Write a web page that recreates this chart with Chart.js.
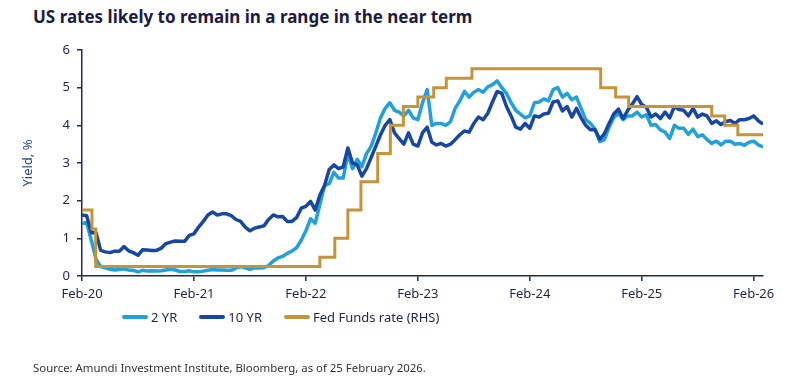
<!DOCTYPE html>
<html>
<head>
<meta charset="utf-8">
<script src="https://cdn.jsdelivr.net/npm/chart.js@4.4.1/dist/chart.umd.min.js"></script>
<style>
  body { margin: 0; background: #fff; font-family: 'Noto Sans', sans-serif; }
  .wrap { position: relative; width: 800px; height: 385px; overflow: hidden; }
  .title { position: absolute; left: 33px; top: 5px; font-size: 17px; font-weight: 700; color: #1d1b45; white-space: nowrap; }
  #chart { position: absolute; left: 0; top: 0; }
  .legend { position: absolute; left: 122px; top: 308px; display: flex; align-items: center; font-size: 13px; color: #1d2450; }
  .legend .item { display: flex; align-items: center; margin-right: 22px; }
  .legend .sw { width: 26px; height: 4px; border-radius: 2px; margin-right: 3px; }
  .source { position: absolute; left: 33px; top: 360px; font-size: 11.4px; color: #333; white-space: nowrap; }
</style>
</head>
<body>
<div class="wrap">
  <div class="title">US rates likely to remain in a range in the near term</div>
  <canvas id="chart" width="800" height="385"></canvas>
  <div class="legend" id="legend"></div>
  <div class="source">Source: Amundi Investment Institute, Bloomberg, as of 25 February 2026.</div>
</div>
<script>
// x axis: months since Feb 2020
const tickMonths = [0, 12, 24, 36, 48, 60, 72];
const tickLabels = ["Feb-20", "Feb-21", "Feb-22", "Feb-23", "Feb-24", "Feb-25", "Feb-26"];
const yTicks = [0, 1, 2, 3, 4, 5, 6];

const seriesNames = ["2 YR", "10 YR", "Fed Funds rate (RHS)"];
const seriesColors = ["#22a0dc", "#1747a0", "#c5943a"];

// semi-monthly readings (1st and 15th of each month), Feb-20 .. end Feb-26
const yr2 = [
  // 2020 (from Feb)
  1.40, 1.42, 0.95, 0.45, 0.25, 0.22, 0.18, 0.16, 0.17, 0.19, 0.16, 0.15,
  0.11, 0.15, 0.13, 0.14, 0.13, 0.14, 0.16, 0.18, 0.16, 0.12,
  // 2021
  0.12, 0.14, 0.11, 0.11, 0.13, 0.15, 0.17, 0.16, 0.16, 0.15, 0.15, 0.21,
  0.25, 0.22, 0.18, 0.22, 0.21, 0.22, 0.28, 0.40, 0.48, 0.52, 0.60, 0.66,
  // 2022
  0.75, 0.95, 1.20, 1.52, 1.40, 1.90, 2.40, 2.45, 2.75, 2.60, 2.60, 3.25,
  2.85, 3.10, 2.90, 3.25, 3.45, 3.80, 4.20, 4.45, 4.60, 4.40, 4.35, 4.25,
  // 2023
  4.40, 4.20, 4.15, 4.60, 4.95, 4.00, 4.05, 4.05, 4.00, 4.10, 4.45, 4.65,
  4.90, 4.75, 4.88, 4.95, 4.88, 5.02, 5.08, 5.18, 5.00, 4.85, 4.60, 4.40,
  // 2024
  4.30, 4.20, 4.25, 4.60, 4.62, 4.70, 4.65, 4.95, 5.00, 4.75, 4.85, 4.68,
  4.75, 4.45, 4.15, 4.05, 3.90, 3.57, 3.62, 3.95, 4.20, 4.32, 4.15, 4.25,
  // 2025
  4.25, 4.35, 4.22, 4.28, 4.00, 4.02, 3.88, 3.82, 3.65, 4.00, 3.92, 3.92,
  3.76, 3.90, 3.70, 3.75, 3.62, 3.52, 3.58, 3.48, 3.58, 3.58, 3.50, 3.52,
  // 2026
  3.47, 3.55, 3.58, 3.48, 3.43
];

const yr10 = [
  // 2020 (from Feb)
  1.62, 1.60, 1.15, 1.15, 0.68, 0.64, 0.62, 0.66, 0.66, 0.78, 0.67, 0.62,
  0.55, 0.70, 0.69, 0.68, 0.68, 0.74, 0.86, 0.90, 0.93, 0.92,
  // 2021
  0.92, 1.08, 1.12, 1.30, 1.45, 1.62, 1.70, 1.62, 1.65, 1.65, 1.60, 1.50,
  1.45, 1.30, 1.20, 1.27, 1.30, 1.33, 1.50, 1.62, 1.57, 1.58, 1.45, 1.45,
  // 2022
  1.55, 1.80, 1.85, 1.98, 1.75, 2.15, 2.40, 2.83, 2.95, 2.85, 2.90, 3.40,
  3.00, 2.95, 2.65, 2.85, 3.15, 3.45, 3.75, 4.00, 4.15, 3.80, 3.65, 3.50,
  // 2023
  3.80, 3.50, 3.45, 3.80, 3.95, 3.55, 3.48, 3.52, 3.45, 3.50, 3.62, 3.75,
  3.85, 3.82, 4.05, 4.22, 4.15, 4.32, 4.62, 4.90, 4.85, 4.50, 4.25, 3.95,
  // 2024
  3.90, 4.05, 3.92, 4.25, 4.22, 4.30, 4.32, 4.62, 4.65, 4.38, 4.50, 4.22,
  4.45, 4.20, 4.00, 3.88, 3.88, 3.63, 3.78, 4.05, 4.30, 4.43, 4.18, 4.40,
  // 2025
  4.57, 4.76, 4.55, 4.48, 4.22, 4.30, 4.18, 4.35, 4.20, 4.50, 4.42, 4.40,
  4.25, 4.45, 4.22, 4.30, 4.25, 4.05, 4.12, 4.02, 4.10, 4.13, 4.05, 4.15,
  // 2026
  4.15, 4.18, 4.25, 4.12, 4.03
];

// Fed funds upper bound: month of each change and new level
const fedMonths = [0, 1.07, 1.47, 25.5, 27.1, 28.5, 29.9, 31.7, 33.05, 34.45, 36.0, 37.7, 39.05, 41.8, 55.6, 57.2, 58.6, 67.5, 68.9, 70.3, 73];
const fedRate = [1.75, 1.25, 0.25, 0.5, 1.0, 1.75, 2.5, 3.25, 4.0, 4.5, 4.75, 5.0, 5.25, 5.5, 5.0, 4.75, 4.5, 4.25, 4.0, 3.75, 3.75];

const months = yr2.map((v, i) => i / 2); // sample dates, half a month apart

const axisColor = "#1e2a58";
const textColor = "#1d2450";

// legend
const legendEl = document.getElementById("legend");
seriesNames.forEach(function (name, i) {
  const item = document.createElement("div");
  item.className = "item";
  item.innerHTML = '<span class="sw" style="background:' + seriesColors[i] + '"></span><span>' + name + '</span>';
  legendEl.appendChild(item);
});

const ctx = document.getElementById("chart");
new Chart(ctx, {
  type: "line",
  data: {
    datasets: [
      {
        label: seriesNames[2],
        data: fedMonths.map((m, i) => ({ x: m, y: fedRate[i] })),
        borderColor: seriesColors[2],
        borderWidth: 3,
        stepped: true,
        pointRadius: 0,
        yAxisID: "y2",
      },
      {
        label: seriesNames[1],
        data: months.map((m, i) => ({ x: m, y: yr10[i] })),
        borderColor: seriesColors[1],
        borderWidth: 3.5,
        pointRadius: 0,
        borderJoinStyle: "round",
      },
      {
        label: seriesNames[0],
        data: months.map((m, i) => ({ x: m, y: yr2[i] })),
        borderColor: seriesColors[0],
        borderWidth: 3.5,
        pointRadius: 0,
        borderJoinStyle: "round",
      },
    ],
  },
  options: {
    responsive: false,
    animation: false,
    devicePixelRatio: 1,
    layout: { padding: { left: 20, right: 37, top: 50, bottom: 79 } },
    plugins: {
      legend: { display: false },
      tooltip: { enabled: false },
    },
    scales: {
      x: {
        type: "linear",
        min: 0,
        max: 73,
        afterBuildTicks: function (s) {
          s.ticks = tickMonths.map((v) => ({ value: v }));
        },
        afterFit: function (s) {
          s.height = 30;
        },
        ticks: {
          color: textColor,
          font: { family: "'Noto Sans'", size: 13 },
          padding: 5,
          maxRotation: 0,
          callback: function (v) {
            const k = tickMonths.indexOf(v);
            return k >= 0 ? tickLabels[k] : "";
          },
        },
        grid: { display: true, drawOnChartArea: false, drawTicks: true, tickLength: 5, color: axisColor, lineWidth: 1.5 },
        border: { display: true, color: axisColor, width: 1.5 },
      },
      y: {
        min: 0,
        max: 6,
        afterBuildTicks: function (s) {
          s.ticks = yTicks.map((v) => ({ value: v }));
        },
        afterFit: function (s) {
          s.width = 62;
        },
        title: {
          display: true,
          text: "Yield, %",
          color: "#2c4a80",
          font: { family: "'Noto Sans'", size: 13 },
          padding: 0,
        },
        ticks: {
          color: textColor,
          font: { family: "'Noto Sans'", size: 13 },
          padding: 7,
        },
        grid: { display: true, drawOnChartArea: false, drawTicks: true, tickLength: 5, color: axisColor, lineWidth: 1.5 },
        border: { display: true, color: axisColor, width: 1.5 },
      },
      y2: {
        display: false,
        position: "right",
        min: 0,
        max: 6,
      },
    },
  },
});
</script>
</body>
</html>
